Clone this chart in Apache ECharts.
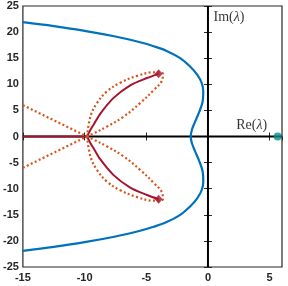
<!DOCTYPE html>
<html><head><meta charset="utf-8">
<script src="https://cdn.jsdelivr.net/npm/echarts@6/dist/echarts.min.js"></script>
<style>html,body{margin:0;padding:0;background:#fff}#c{width:288px;height:286px}</style>
</head><body><div id="c"></div>
<script>
var xTicks = [-15, -10, -5, 0, 5];
var yTicks = [-25, -20, -15, -10, -5, 0, 5, 10, 15, 20, 25];
var blueCurve = [[-15,21.9],[-12.5,21.15],[-10,20.25],[-7.5,19.15],[-5.5,18.05],[-4.4,17.3],[-3.35,16.4],[-2.25,15.0],[-1.45,13.4],[-0.86,11.8],[-0.5,10.2],[-0.38,8.6],[-0.43,6.7],[-0.7,4.75],[-1.05,2.8],[-1.3,1.3],[-1.4,0],
  [-1.3,-1.3],[-1.05,-2.8],[-0.7,-4.75],[-0.43,-6.7],[-0.38,-8.6],[-0.5,-10.2],[-0.86,-11.8],[-1.45,-13.4],[-2.25,-15.0],[-3.35,-16.4],[-4.4,-17.3],[-5.5,-18.05],[-7.5,-19.15],[-10,-20.25],[-12.5,-21.15],[-15,-21.9]];
var redAxis = [[-15,0],[-9.8,0]];
var redUpper = [[-9.8,0],[-9.5,1.4],[-9.26,2.3],[-8.72,4.4],[-7.65,7.4],[-6.3,9.8],[-4.95,11.2],[-4.0,12.0]];
var redLower = [[-9.8,0],[-9.5,-1.4],[-9.26,-2.3],[-8.72,-4.4],[-7.65,-7.4],[-6.3,-9.8],[-4.95,-11.2],[-4.0,-12.0]];
var redTips = [[-4.0,12.0],[-4.0,-12.0]];
var orangeLoopUpper = [[-9.8,0],[-9.53,3.8],[-9.0,6.4],[-8.2,8.6],[-7.1,10.3],[-5.76,11.6],[-4.4,12.3],[-3.65,12.0],[-3.7,10.9],[-4.4,8.9],[-5.5,6.4],[-6.84,3.8],[-8.18,1.9],[-9.26,0.6],[-9.8,0]];
var orangeLoopLower = [[-9.8,0],[-9.53,-3.8],[-9.0,-6.4],[-8.2,-8.6],[-7.1,-10.3],[-5.76,-11.6],[-4.4,-12.3],[-3.65,-12.0],[-3.7,-10.9],[-4.4,-8.9],[-5.5,-6.4],[-6.84,-3.8],[-8.18,-1.9],[-9.26,-0.6],[-9.8,0]];
var orangeRayUp = [[-15,6],[-9.8,0]];
var orangeRayDown = [[-15,-6],[-9.8,0]];
var tealPoint = [[5.65,0]];
var zeroH = [[-15,0],[6,0]];
var zeroV = [[0,-25],[0,25]];

var chart = echarts.init(document.getElementById('c'));
var FONT = 'Liberation Sans';
function axisCommon(){
  return {axisLine:{show:false},splitLine:{show:false},
    axisTick:{show:true,inside:true,length:4,lineStyle:{color:'#262626',width:1}}};
}
var xb = Object.assign(axisCommon(),{type:'value',min:-15,max:6,interval:5,position:'bottom',
  axisLabel:{show:true,showMaxLabel:false,color:'#262626',fontFamily:FONT,fontWeight:'bold',fontSize:11,margin:5,
    formatter:function(v){return xTicks.indexOf(v)>=0?String(v):'';}}});
var xt = Object.assign(axisCommon(),{type:'value',min:-15,max:6,interval:5,position:'top',axisLabel:{show:false}});
var yl = Object.assign(axisCommon(),{type:'value',min:-25,max:25,interval:5,position:'left',
  axisLabel:{show:true,color:'#262626',fontFamily:FONT,fontWeight:'bold',fontSize:11,margin:4,
    formatter:function(v){return yTicks.indexOf(v)>=0?String(v):'';}}});
var yr = Object.assign(axisCommon(),{type:'value',min:-25,max:25,interval:5,position:'right',axisLabel:{show:false}});

function line(data,color,width,type,z){
  return {type:'line',data:data,showSymbol:false,symbol:'none',smooth:false,animation:false,silent:true,z:z||2,
    lineStyle:{color:color,width:width,type:type||'solid',cap:'butt'}};
}
var ORANGE='#D95319', RED='#A2142F', BLUE='#0072BD';
var dot=[2,2.4];
var rich = {n:{fontFamily:'Liberation Serif',fontSize:14,color:'#000'},i:{fontFamily:'Liberation Serif',fontStyle:'italic',fontSize:14,color:'#000'}};
chart.setOption({
  animation:false,
  grid:{left:22,right:6,top:6,bottom:19,show:true,borderColor:'#262626',borderWidth:1.2,backgroundColor:'transparent'},
  xAxis:[xb,xt], yAxis:[yl,yr],
  series:[
    line(zeroH,'#000',2,'solid',1),
    line(zeroV,'#000',2,'solid',1),
    Object.assign(line(blueCurve,BLUE,2.2),{smooth:0.35}),
    line(redAxis,RED,2.2,'solid',3),
    Object.assign(line(redUpper,RED,2),{smooth:0.3,z:3}),
    Object.assign(line(redLower,RED,2),{smooth:0.3,z:3}),
    Object.assign(line(orangeLoopUpper,ORANGE,2.2,dot),{smooth:0.4,z:4}),
    Object.assign(line(orangeLoopLower,ORANGE,2.2,dot),{smooth:0.4,z:4}),
    line(orangeRayUp,ORANGE,2.2,dot,4),
    line(orangeRayDown,ORANGE,2.2,dot,4),
    {type:'scatter',data:redTips,symbol:'diamond',symbolSize:[8,9],itemStyle:{color:RED},z:5,silent:true},
    {type:'scatter',data:tealPoint,symbol:'circle',symbolSize:8,itemStyle:{color:'#0B8C88'},z:5,silent:true},
    {type:'scatter',data:[[0.45,22.9]],symbolSize:0,z:6,silent:true,
      label:{show:true,position:'right',distance:0,formatter:'{n|Im(}{i|λ}{n|)}',rich:rich}},
    {type:'scatter',data:[[4.8,0.4]],symbolSize:0,z:6,silent:true,
      label:{show:true,position:'left',distance:0,verticalAlign:'bottom',offset:[0,-2],formatter:'{n|Re(}{i|λ}{n|)}',rich:rich}}
  ]
});
</script></body></html>
